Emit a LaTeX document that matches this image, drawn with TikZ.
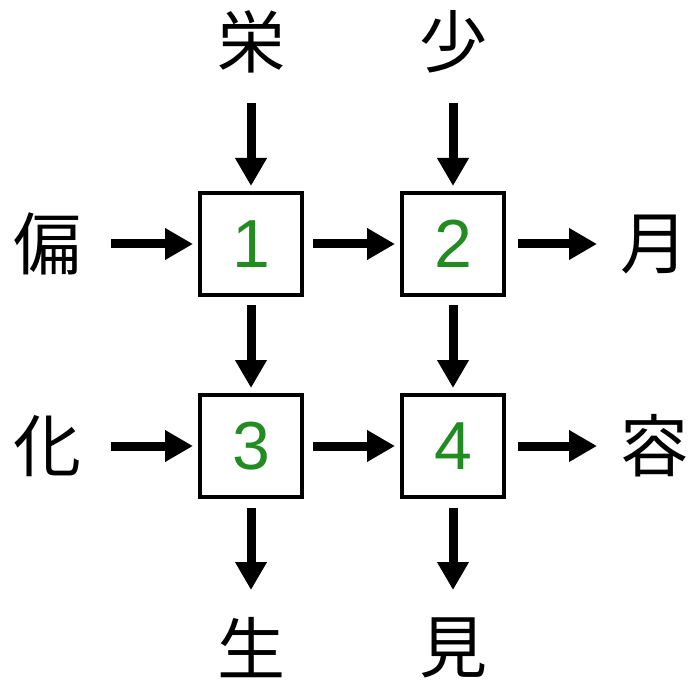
\documentclass[tikz,border=0pt]{standalone}
\usepackage{fontspec}
\setmainfont{Liberation Sans}
\newfontfamily\cjk{Noto Sans CJK JP}
\usetikzlibrary{arrows.meta}
\definecolor{numgreen}{RGB}{34,139,34}
\tikzset{
  cell/.style={draw=black, line width=4pt, minimum size=102pt, inner sep=0pt, outer sep=2pt,
    font=\fontsize{68}{68}\selectfont, text=numgreen},
  kanji/.style={minimum size=70pt, inner sep=0pt, outer sep=0pt, font=\cjk\fontsize{68}{68}\selectfont},
  flow/.style={line width=9pt, -{Triangle[width=30pt,length=28pt]}}
}
\begin{document}
\begin{tikzpicture}[x=1pt,y=-1pt]
\useasboundingbox (0,0) rectangle (693,684);
\node[cell] (b1) at (251,244) {1};
\node[cell] (b2) at (453,244) {2};
\node[cell] (b3) at (251,446) {3};
\node[cell] (b4) at (453,446) {4};
\node[kanji] (t1) at (251,42) {栄};
\node[kanji] (t2) at (453,42) {少};
\node[kanji] (l1) at (47,244) {偏};
\node[kanji] (l2) at (47,446) {化};
\node[kanji] (r1) at (654,244) {月};
\node[kanji] (r2) at (654,446) {容};
\node[kanji] (d1) at (251,648) {生};
\node[kanji] (d2) at (453,648) {見};
\draw[flow, shorten <=26pt, shorten >=5pt] (t1.south) -- (b1.north);
\draw[flow, shorten <=26pt, shorten >=5pt] (t2.south) -- (b2.north);
\draw[flow, shorten <=29pt, shorten >=5pt] (l1.east) -- (b1.west);
\draw[flow, shorten <=29pt, shorten >=5pt] (l2.east) -- (b3.west);
\draw[flow, shorten <=9pt, shorten >=5pt] (b1.east) -- (b2.west);
\draw[flow, shorten <=9pt, shorten >=5pt] (b3.east) -- (b4.west);
\draw[flow, shorten <=12pt, shorten >=22pt] (b2.east) -- (r1.west);
\draw[flow, shorten <=12pt, shorten >=22pt] (b4.east) -- (r2.west);
\draw[flow, shorten <=8pt, shorten >=5pt] (b1.south) -- (b3.north);
\draw[flow, shorten <=8pt, shorten >=5pt] (b2.south) -- (b4.north);
\draw[flow, shorten <=9pt, shorten >=23pt] (b3.south) -- (d1.north);
\draw[flow, shorten <=9pt, shorten >=23pt] (b4.south) -- (d2.north);
\end{tikzpicture}
\end{document}
